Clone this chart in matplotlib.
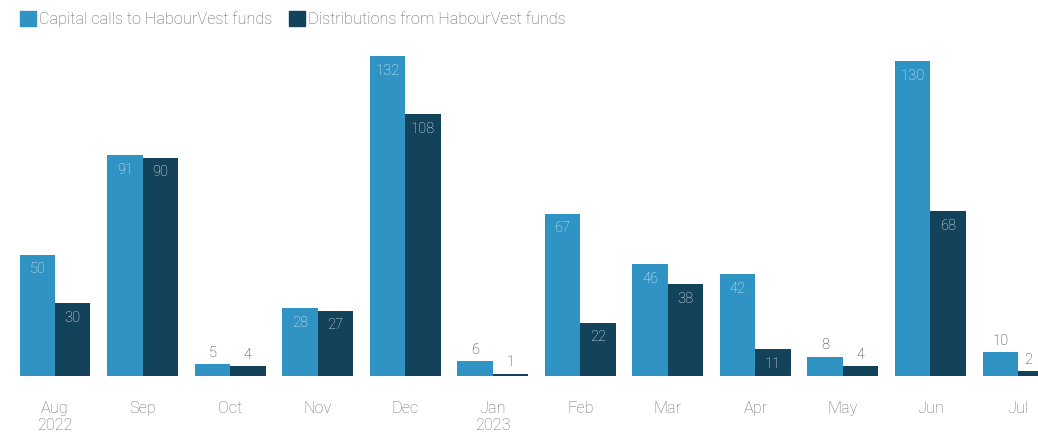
import numpy as np
import matplotlib
matplotlib.use("Agg")
import matplotlib.pyplot as plt
from matplotlib.patches import Patch

plt.rcParams['font.family'] = ['Roboto', 'DejaVu Sans']

months = ["Aug\n2022", "Sep", "Oct", "Nov", "Dec", "Jan\n2023", "Feb", "Mar",
          "Apr", "May", "Jun", "Jul"]
calls = [50, 91, 5, 28, 132, 6, 67, 46, 42, 8, 130, 10]
distributions = [30, 90, 4, 27, 108, 1, 22, 38, 11, 4, 68, 2]
series_names = ["Capital calls to HabourVest funds",
                "Distributions from HabourVest funds"]

light = "#2f93c4"
dark = "#13435b"

fig = plt.figure(figsize=(10.38, 4.36), dpi=100)
# axes placed in pixel terms: baseline at y=376 from top, top of plot area at y=40
ax = fig.add_axes([0, 60 / 436, 1, 336 / 436])

x = np.arange(len(months))
w = 0.405
b1 = ax.bar(x - w / 2, calls, w, color=light)
b2 = ax.bar(x + w / 2, distributions, w, color=dark)

step = (1018 - 55) / 11
xmin, xmax = -55 / step, (1038 - 55) / step
ax.set_xlim(xmin, xmax)
ax.set_ylim(0, 336 / 2.424)

# value labels: inside the bar top if tall enough, else above
for bars, vals in [(b1, calls), (b2, distributions)]:
    for rect, v in zip(bars, vals):
        left = rect.get_x()
        right = min(left + rect.get_width(), xmax)
        cx = (left + right) / 2
        if v > 10:
            ax.annotate(str(v), (cx, v), xytext=(0, -5.5), textcoords="offset points",
                        ha="center", va="top", fontsize=10.5, color="#e3ebf0",
                        fontweight="light")
        else:
            ax.annotate(str(v), (cx, v), xytext=(0, 3), textcoords="offset points",
                        ha="center", va="bottom", fontsize=10.5, color="#333333",
                        fontweight="light")

ax.set_xticks(x)
ax.set_xticklabels(months, fontsize=11.7, color="#707070", fontweight="light",
                   linespacing=1.2)
ax.tick_params(axis="x", length=0, pad=18)
ax.set_yticks([])
for s in ax.spines.values():
    s.set_visible(False)

handles = [Patch(color=light), Patch(color=dark)]
fig.legend(handles, series_names, loc="upper left", bbox_to_anchor=(0.005, 1.008),
           ncol=2, frameon=False, handlelength=1.0, handleheight=1.0,
           handletextpad=0.2, columnspacing=1.0,
           prop={"size": 11.7, "weight": "light"}, labelcolor="#606060")

fig.savefig("out.png", dpi=100)
